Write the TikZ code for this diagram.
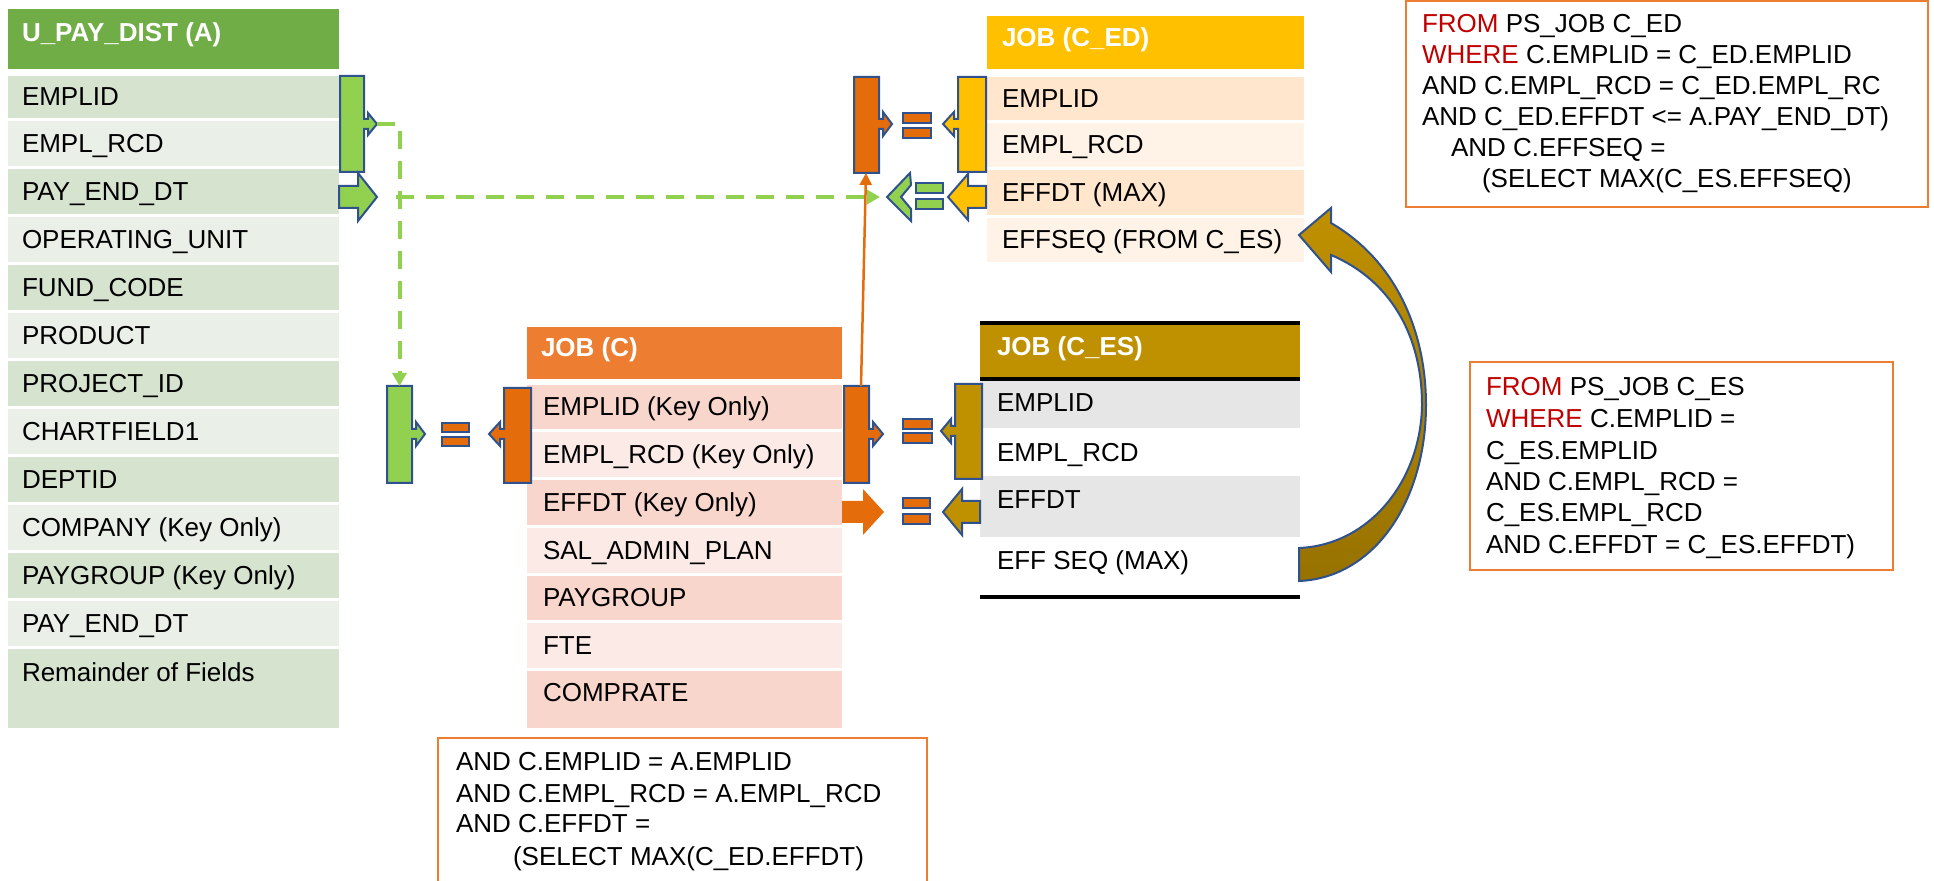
\documentclass[tikz,border=0pt]{standalone}
\usepackage{fontspec}
\setmainfont{Liberation Sans}
\usetikzlibrary{arrows.meta}
\definecolor{Ahead}{HTML}{70AD47}
\definecolor{Adark}{HTML}{D5E3CF}
\definecolor{Alight}{HTML}{EAEFE7}
\definecolor{Chead}{HTML}{ED7D31}
\definecolor{Cdark}{HTML}{F8D6CB}
\definecolor{Clight}{HTML}{FBEAE5}
\definecolor{EDhead}{HTML}{FFC000}
\definecolor{EDdark}{HTML}{FFE6CC}
\definecolor{EDlight}{HTML}{FFF2E6}
\definecolor{EShead}{HTML}{BF9000}
\definecolor{ESgray}{HTML}{E7E6E6}
\definecolor{gfill}{HTML}{92D050}
\definecolor{ofill}{HTML}{E46C0A}
\definecolor{olblue}{HTML}{2F528F}
\definecolor{sqlred}{HTML}{C00000}
\definecolor{boxorange}{HTML}{ED7D31}
\definecolor{goldA}{HTML}{BF9000}
\definecolor{goldB}{HTML}{977200}
\newcommand\mycallout[9]{% style, xo, xe, y1, y2, yc, xs, xt, hh
  \path[#1] (#2,#4) -- (#3,#4) -- (#3,{#6-5}) -- (#7,{#6-5}) -- (#7,{#6-#9}) -- (#8,#6)
    -- (#7,{#6+#9}) -- (#7,{#6+5}) -- (#3,{#6+5}) -- (#3,#5) -- (#2,#5) -- cycle;}
\newcommand\myblockarrow[7]{% style, xtail, xs, xt, yc, hs, hh
  \path[#1] (#2,{#5-#6}) -- (#3,{#5-#6}) -- (#3,{#5-#7}) -- (#4,#5) -- (#3,{#5+#7})
    -- (#3,{#5+#6}) -- (#2,{#5+#6}) -- cycle;}
\newcommand\myeq[7]{% style, x1, x2, y1, y2, y3, y4
  \path[#1] (#2,#4) rectangle (#3,#5);
  \path[#1] (#2,#6) rectangle (#3,#7);}
\begin{document}
\begin{tikzpicture}[x=0.5pt,y=-0.5pt,
  font=\fontsize{13}{15.5}\selectfont,
  txt/.style={anchor=base west, inner sep=0pt, outer sep=0pt},
  hdr/.style={txt, text=white, font=\fontsize{13}{15.5}\selectfont\bfseries},
  olshape/.style={draw=olblue, line width=1pt, line join=miter},
  gshape/.style={olshape, fill=gfill},
  oshape/.style={olshape, fill=ofill},
  yshape/.style={olshape, fill=EDhead},
  kshape/.style={olshape, fill=EShead},
  gdash/.style={draw=gfill, line width=2pt, dash pattern=on 9pt off 6pt},
  sqlbox/.style={draw=boxorange, line width=1pt},
  esline/.style={draw=black, line width=2pt}]
\useasboundingbox (0,0) rectangle (1934,881);
\clip (0,0) rectangle (1934,881);

% ---------- Table A ----------
\fill[Ahead] (8,9) rectangle (339,69);
\node[hdr] (Ah) at (22,42) {U\_PAY\_DIST (A)};
\foreach \t/\b/\c/\s [count=\i] in {
  76/118/Adark/EMPLID, 121/166/Alight/EMPL\_RCD, 169/214/Adark/PAY\_END\_DT,
  217/262/Alight/OPERATING\_UNIT, 265/310/Adark/FUND\_CODE, 313/358/Alight/PRODUCT,
  361/406/Adark/PROJECT\_ID, 409/454/Alight/CHARTFIELD1, 457/502/Adark/DEPTID,
  505/550/Alight/COMPANY (Key Only), 553/598/Adark/PAYGROUP (Key Only),
  601/646/Alight/PAY\_END\_DT}{
  \fill[\c] (8,\t) rectangle (339,\b);
  \node[txt] (A\i) at (22,{(\t+\b)/2+9}) {\s};
}
\fill[Adark] (8,649) rectangle (339,728);
\node[txt] (A13) at (22,682) {Remainder of Fields};

% ---------- Table C ----------
\fill[Chead] (527,327) rectangle (842,379);
\node[hdr] (Ch) at (541,357) {JOB (C)};
\foreach \t/\b/\c/\s [count=\i] in {
  385/429/Cdark/EMPLID (Key Only), 432/477/Clight/EMPL\_RCD (Key Only),
  480/525/Cdark/EFFDT (Key Only), 528/573/Clight/SAL\_ADMIN\_PLAN,
  576/620/Cdark/PAYGROUP, 623/668/Clight/FTE}{
  \fill[\c] (527,\t) rectangle (842,\b);
  \node[txt] (C\i) at (543,{(\t+\b)/2+9}) {\s};
}
\fill[Cdark] (527,671) rectangle (842,728);
\node[txt] (C7) at (543,702) {COMPRATE};

% ---------- Table C_ED ----------
\fill[EDhead] (987,16) rectangle (1304,69);
\node[hdr] (Dh) at (1002,47) {JOB (C\_ED)};
\foreach \t/\b/\c/\s [count=\i] in {
  77/120/EDdark/EMPLID, 123/167/EDlight/EMPL\_RCD,
  170/215/EDdark/EFFDT (MAX), 218/262/EDlight/EFFSEQ (FROM C\_ES)}{
  \fill[\c] (987,\t) rectangle (1304,\b);
  \node[txt] (D\i) at (1002,{(\t+\b)/2+9}) {\s};
}

% ---------- Table C_ES ----------
\fill[EShead] (980,323) rectangle (1300,379);
\fill[ESgray] (980,381) rectangle (1300,428);
\fill[ESgray] (980,476) rectangle (1300,537);
\draw[esline] (980,323) -- (1300,323);
\draw[esline] (980,379) -- (1300,379);
\draw[esline] (980,597) -- (1300,597);
\node[hdr] (Eh) at (997,356) {JOB (C\_ES)};
\node[txt] (E1) at (997,412) {EMPLID};
\node[txt] (E2) at (997,462) {EMPL\_RCD};
\node[txt] (E3) at (997,509) {EFFDT};
\node[txt] (E4) at (997,570) {EFF SEQ (MAX)};

% ---------- curved arrow C_ES -> C_ED ----------
\shadedraw[top color=goldA, middle color=goldA, bottom color=goldB, draw=olblue, line width=1pt, line join=miter]
  (1299,235) -- (1331,208) -- (1331,223)
  .. controls (1395,260) and (1426,330) .. (1426,405)
  .. controls (1426,500) and (1375,578) .. (1299,581)
  -- (1299,548)
  .. controls (1370,545) and (1421,480) .. (1422,405)
  .. controls (1422,335) and (1390,280) .. (1331,255)
  -- (1331,272) -- cycle;

% ---------- callouts ----------
\mycallout{gshape}{340}{364}{76}{172}{124}{368}{377}{11}
\myblockarrow{gshape}{339}{358}{377}{197}{11}{24}
\mycallout{gshape}{387}{412}{386}{483}{434}{416}{425}{12}
\myeq{oshape}{442}{469}{423}{432}{437}{446}
\mycallout{oshape}{531}{504}{388}{483}{434}{500}{489}{12}
\mycallout{oshape}{844}{869}{386}{483}{434}{873}{883}{12}
\myeq{oshape}{903}{932}{419}{429}{433}{443}
\mycallout{kshape}{982}{955}{384}{479}{431}{951}{941}{12}
\myblockarrow{fill=ofill}{842}{863}{884}{512}{11}{23}
\myeq{oshape}{903}{930}{498}{508}{514}{524}
\myblockarrow{kshape}{980}{962}{943}{512}{11}{23}
\mycallout{oshape}{854}{879}{77}{173}{124}{883}{892}{12}
\myeq{oshape}{903}{931}{113}{123}{128}{138}
\mycallout{yshape}{986}{958}{77}{172}{124}{954}{943}{12}
\path[gshape] (887,197) -- (910,173) -- (911,185) -- (901,197) -- (911,209) -- (911,221) -- cycle;
\myeq{gshape}{916}{943}{183}{193}{199}{209}
\myblockarrow{yshape}{986}{968}{948}{197}{11}{23}

% ---------- connectors ----------
\coordinate (gaTip) at (377,124);
\coordinate (gcTop) at (399.5,386);
\coordinate (pStart) at (396,197);
\coordinate (pEnd) at (880,197);
\coordinate (ocTop) at (861,386);
\coordinate (oeBot) at (866,173);
\draw[gdash, -{Triangle[length=6.5pt, width=7pt]}] (gaTip) -| (gcTop);
\draw[gdash, -{Triangle[length=6.5pt, width=7pt]}] (pStart) -- (pEnd);
\draw[ofill, line width=1.25pt, -{Triangle[length=6pt, width=6pt]}] (ocTop) -- (oeBot);

% ---------- SQL boxes ----------
\draw[sqlbox] (1406,1) rectangle (1928,207);
\node[txt] (s1) at (1422,33) {\textcolor{sqlred}{FROM} PS\_JOB C\_ED};
\node[txt] (s2) at (1422,64) {\textcolor{sqlred}{WHERE} C.EMPLID = C\_ED.EMPLID};
\node[txt] (s3) at (1422,95) {AND C.EMPL\_RCD = C\_ED.EMPL\_RC};
\node[txt] (s4) at (1422,126) {AND C\_ED.EFFDT <= A.PAY\_END\_DT)};
\node[txt] (s5) at (1451,157) {AND C.EFFSEQ =};
\node[txt] (s6) at (1482,188) {(SELECT MAX(C\_ES.EFFSEQ)};

\draw[sqlbox] (1470,362) rectangle (1893,570);
\node[txt] (m1) at (1486,396) {\textcolor{sqlred}{FROM} PS\_JOB C\_ES};
\node[txt] (m2) at (1486,428) {\textcolor{sqlred}{WHERE} C.EMPLID =};
\node[txt] (m3) at (1486,460) {C\_ES.EMPLID};
\node[txt] (m4) at (1486,491) {AND C.EMPL\_RCD =};
\node[txt] (m5) at (1486,522) {C\_ES.EMPL\_RCD};
\node[txt] (m6) at (1486,554) {AND C.EFFDT = C\_ES.EFFDT)};

\draw[sqlbox] (438,738) rectangle (927,900);
\node[txt] (b1) at (456,770) {AND C.EMPLID = A.EMPLID};
\node[txt] (b2) at (456,802) {AND C.EMPL\_RCD = A.EMPL\_RCD};
\node[txt] (b3) at (456,833) {AND C.EFFDT =};
\node[txt] (b4) at (513,865) {(SELECT MAX(C\_ED.EFFDT)};
\end{tikzpicture}
\end{document}
